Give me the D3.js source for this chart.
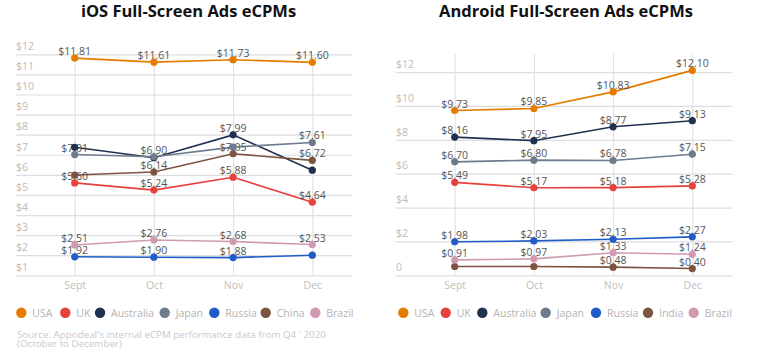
<!DOCTYPE html>
<html><head><meta charset="utf-8">
<script src="https://cdn.jsdelivr.net/npm/d3@7"></script>
<style>
body{margin:0;background:#fff;}
text{font-family:"Open Sans","Noto Sans",sans-serif;}
</style></head>
<body><svg id="c" width="758" height="354"></svg>
<script>
const months = ["Sept","Oct","Nov","Dec"];

const iosCountries = ["USA","UK","Australia","Japan","Russia","China","Brazil"];
const iosUSA = [11.81, 11.61, 11.73, 11.60];
const iosUK = [5.60, 5.24, 5.88, 4.64];
const iosAustralia = [7.37, 6.85, 7.99, 6.23];
const iosJapan = [7.01, 6.90, 7.38, 7.61];
const iosRussia = [1.92, 1.90, 1.88, 2.00];
const iosChina = [5.99, 6.14, 7.05, 6.72];
const iosBrazil = [2.51, 2.76, 2.68, 2.53];
const iosHidden = [["Australia",0],["Australia",1],["Australia",3],["China",0],["Japan",2],["Russia",3]];
const iosTicks = [1,2,3,4,5,6,7,8,9,10,11,12];

const andCountries = ["USA","UK","Australia","Japan","Russia","India","Brazil"];
const andUSA = [9.73, 9.85, 10.83, 12.10];
const andUK = [5.49, 5.17, 5.18, 5.28];
const andAustralia = [8.16, 7.95, 8.77, 9.13];
const andJapan = [6.70, 6.80, 6.78, 7.15];
const andRussia = [1.98, 2.03, 2.13, 2.27];
const andIndia = [0.52, 0.52, 0.48, 0.40];
const andBrazil = [0.91, 0.97, 1.33, 1.24];
const andHidden = [["India",0],["India",1]];
const andTicks = [0,2,4,6,8,10,12];

const colors = {USA:"#e57c00",UK:"#e8403c",Australia:"#1f3050",Japan:"#6d7b8d",Russia:"#1f5cc8",China:"#7d5442",India:"#7d5442",Brazil:"#d09ab3"};

const svg = d3.select("#c");

function chart(opts){
  const g = svg.append("g");
  const x = d3.scalePoint().domain(months).range([opts.x0, opts.x1]);
  const y = d3.scaleLinear().domain(opts.domain).range([opts.yb, 54.3]);
  g.append("text").attr("x",opts.tx).attr("y",17).attr("text-anchor","middle")
    .attr("font-size",16.5).attr("font-weight","bold").attr("fill","#111").text(opts.title);
  const yAxis = d3.axisLeft(y).tickValues(opts.ticks).tickSize(-(opts.g1-opts.g0)).tickFormat(opts.fmt);
  const ya = g.append("g").attr("transform",`translate(${opts.g0},0)`).call(yAxis);
  ya.select(".domain").remove();
  ya.selectAll(".tick line").attr("stroke","#dedede").attr("stroke-width",1.2);
  ya.selectAll(".tick text").attr("x",0).attr("dy","-0.45em").attr("text-anchor","start")
    .style("fill","#bbbbbb").attr("font-size",10.5).style("font-weight","400");
  const xAxis = d3.axisBottom(x).tickSize(-(opts.yb-54));
  const xa = g.append("g").attr("transform",`translate(0,${opts.yb})`).call(xAxis);
  xa.select(".domain").remove();
  xa.selectAll(".tick line").attr("stroke","#e3e3e3").attr("stroke-width",1.2);
  xa.selectAll(".tick text").attr("y",14).attr("dy",null).style("fill","#c0c0c0")
    .attr("font-size",10.5).style("font-weight","400");

  const line = d3.line().x((d,i)=>x(months[i])).y(d=>y(d));
  opts.countries.forEach(c=>{
    g.append("path").datum(opts.data[c]).attr("d",line).attr("fill","none")
      .attr("stroke",colors[c]).attr("stroke-width",1.6);
  });
  opts.countries.forEach(c=>{
    const vals = opts.data[c];
    g.selectAll(null).data(vals.map((v,i)=>({v,i}))
        .filter(d=>!opts.hidden.some(h=>h[0]===c&&h[1]===d.i))).enter().append("text")
      .attr("x",d=>x(months[d.i])).attr("y",d=>y(d.v)-3).attr("text-anchor","middle")
      .attr("font-size",10.5).attr("fill","#555").text(d=>"$"+d.v.toFixed(2));
  });
  opts.countries.forEach(c=>{
    g.selectAll(null).data(opts.data[c]).enter().append("circle")
      .attr("cx",(d,i)=>x(months[i])).attr("cy",d=>y(d)).attr("r",3.6).attr("fill",colors[c]);
  });
  const lg = g.append("g");
  opts.countries.forEach((c,i)=>{
    lg.append("circle").attr("cx",opts.legX[i]).attr("cy",312.7).attr("r",5.2).attr("fill",colors[c]);
    lg.append("text").attr("x",opts.legX[i]+11).attr("y",316.5).attr("font-size",10.5)
      .attr("fill","#b3b3b3").text(c);
  });
}

chart({title:"iOS Full-Screen Ads eCPMs", tx:188.5, x0:74.7, x1:312.3, g0:16, g1:352,
  domain:[1,12], yb:275.3, ticks:iosTicks, fmt:d=>"$"+d,
  countries:iosCountries, hidden:iosHidden,
  data:{USA:iosUSA,UK:iosUK,Australia:iosAustralia,Japan:iosJapan,Russia:iosRussia,China:iosChina,Brazil:iosBrazil},
  legX:[21.3,65.3,100,164.7,214.3,265.7,315.3]});

chart({title:"Android Full-Screen Ads eCPMs", tx:566, x0:454.7, x1:692.3, g0:396, g1:732,
  domain:[0,13.05], yb:275.3, ticks:andTicks, fmt:d=>d===0?"0":"$"+d,
  countries:andCountries, hidden:andHidden,
  data:{USA:andUSA,UK:andUK,Australia:andAustralia,Japan:andJapan,Russia:andRussia,India:andIndia,Brazil:andBrazil},
  legX:[403.3,445.7,482.3,545.7,596,648,693.7]});

const src = svg.append("text").attr("font-size",9.8).attr("fill","#c9c9c9");
src.append("tspan").attr("x",17).attr("y",338).text("Source: Appodeal's internal eCPM performance data from Q4 ' 2020");
src.append("tspan").attr("x",17).attr("y",347).text("(October to December)");
</script></body></html>
